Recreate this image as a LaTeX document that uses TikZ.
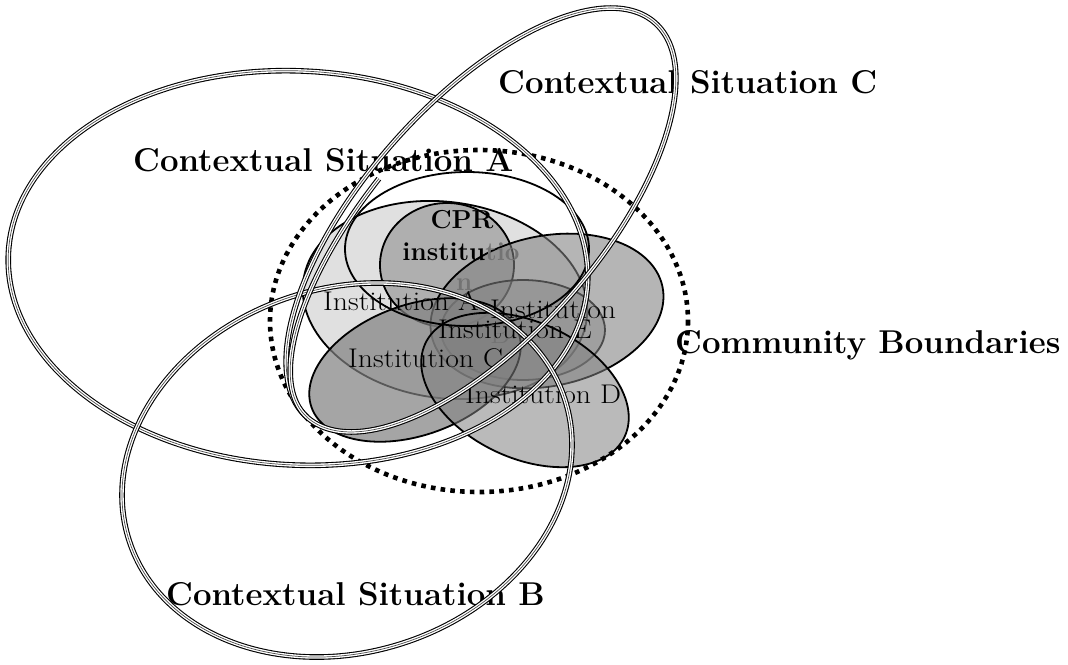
\documentclass[tikz,border=0pt]{standalone}
\usepackage{fontspec}
\newfontfamily\widerm[FakeStretch=1.1]{Latin Modern Roman}
\newcommand\ctxfont{\fontsize{33}{38}\selectfont\bfseries}
\newcommand\instfont{\widerm\fontsize{27}{31}\selectfont}
\newcommand\cprfont{\fontsize{26}{30}\selectfont\bfseries}
\begin{document}
\begin{tikzpicture}[x=1pt,y=-1pt,
  outl/.style={draw=black, line width=1.8pt},
  shade/.style={outl, fill=black!50, fill opacity=#1},
  ctx/.style={draw=black, line width=5.6pt,
    postaction={draw=white, line width=3.4pt},
    postaction={draw=black!70, line width=0.7pt}},
  commb/.style={draw=black, line width=4.6pt, dash pattern=on 4.6pt off 5.2pt},
  lbl/.style={anchor=base west, inner sep=0pt, text=black}]
\useasboundingbox (0,0) rectangle (1068,664);
\fill[white] (0,0) rectangle (1068,664);

% institution ellipses
\draw[shade=0.24, rotate around={-8:(445,300)}] (445,300) ellipse [x radius=143, y radius=98];
\draw[shade=0.5] (447,265) ellipse [x radius=67, y radius=62];
\draw[shade=0.4] (523,330) ellipse [x radius=82, y radius=50];
\draw[shade=0.58, rotate around={12:(547,311)}] (547,311) ellipse [x radius=118, y radius=75];
\draw[shade=0.7, rotate around={20:(415,370)}] (415,370) ellipse [x radius=110, y radius=65];
\draw[shade=0.54, rotate around={-25:(525,390)}] (525,390) ellipse [x radius=110, y radius=68];
\draw[outl] (467,249) ellipse [x radius=122, y radius=77];

% labels
\node[anchor=base, inner sep=0pt, font=\cprfont] (cpr) at (462,228) {CPR};
\node[anchor=base, inner sep=0pt, font=\cprfont] (cpr2) at (461,260) {institu\textcolor{black!55}{tio}};
\node[lbl, font=\cprfont, text=black!55] (cpr3) at (456,290) {n};
\node[lbl, font=\instfont] (ia) at (323,310) {Institution A};
\node[lbl, font=\instfont] (ib) at (490,318) {Institution};
\node[lbl, font=\instfont, text=black!55] (ib2) at (490,343) {B};
\node[lbl, font=\instfont] (ie) at (438,338) {Institution E};
\node[lbl, font=\instfont] (ic) at (348,367) {Institution C};
\node[lbl, font=\instfont] (id) at (465,403) {Institution D};

\node[lbl, font=\ctxfont] (csa) at (133,171) {Contextual Situation A};
\node[lbl, font=\ctxfont] (csb) at (166,605) {Contextual Situation B};
\node[lbl, font=\ctxfont] (csc) at (498,93) {Contextual Situation C};
\node[lbl, font=\ctxfont] (comm) at (675,353) {Community Boundaries};

% community boundaries
\draw[commb] (479,321) ellipse [x radius=209, y radius=171];

% contextual situations
\draw[ctx, rotate around={-3:(298,268)}] (298,268) ellipse [x radius=290, y radius=197];
\draw[ctx, rotate around={18:(347,470)}] (347,470) ellipse [x radius=229, y radius=182];
\draw[ctx, rotate around={48.6:(481,220)}] (481,220) ellipse [x radius=263, y radius=117];
\draw[ctx] plot[domain=180:262, samples=60, smooth] ({481+173.8*cos(\x)+78.75*sin(\x)}, {220-197.3*cos(\x)+69.4*sin(\x)});
\end{tikzpicture}
\end{document}
